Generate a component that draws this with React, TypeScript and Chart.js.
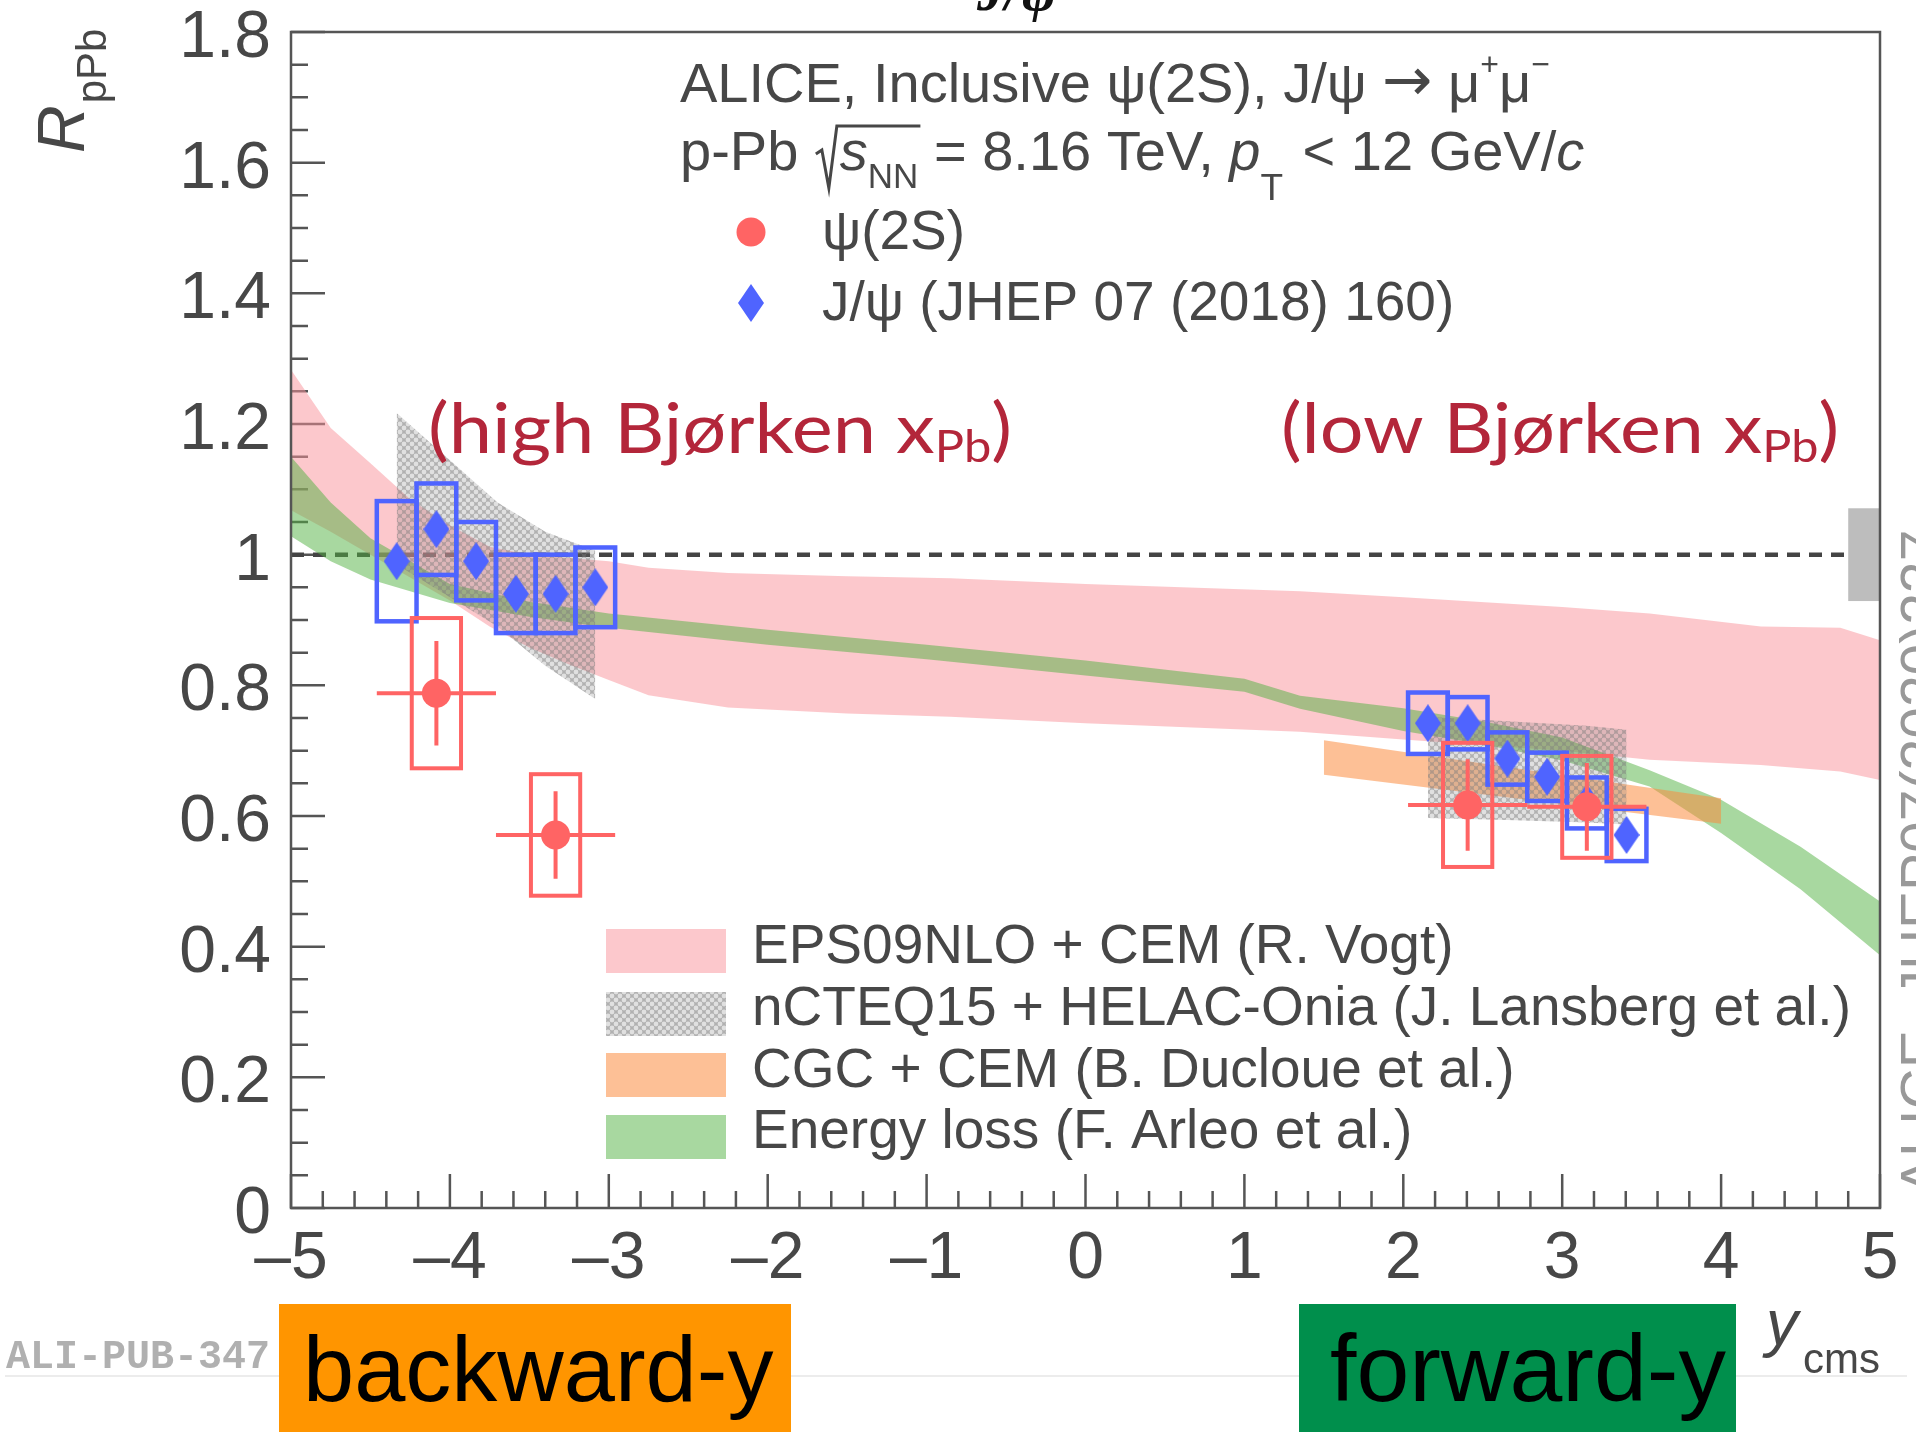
import { useEffect, useRef } from 'react';
import { Chart, registerables } from 'chart.js';

Chart.register(...registerables);

const CANVAS_W = 1916;
const CANVAS_H = 1432;
const SANS = '"Liberation Sans", Arial, Helvetica, sans-serif';
const SERIF = '"Liberation Serif", "Times New Roman", serif';
const ROUND = 'Lato, "Open Sans", sans-serif';
const MONO = '"Liberation Mono", "DejaVu Sans Mono", monospace';
const SYMBOL = '"DejaVu Sans", sans-serif';

const TEXT_GREY = '#474747';
const AXIS_GREY = '#555555';
const RED = '#ff6464';
const BLUE = '#4f64ff';
const PINK = 'rgba(249,145,153,0.5)';
const GREEN = 'rgba(81,177,65,0.5)';
const ORANGE = 'rgba(251,140,64,0.55)';
const NOTE_RED = '#b3263a';

// axis ranges and ticks
const X_MIN = -5;
const X_MAX = 5;
const Y_MIN = 0;
const Y_MAX = 1.8;
const X_STEP = 1;
const Y_STEP = 0.2;
const X_MINOR = 0.2;
const Y_MINOR = 0.05;

// ψ(2S) R_pPb: two rapidity bins per side
const psiRap = [-4.085, -3.335, 2.405, 3.155];
const psiVal = [0.788, 0.571, 0.617, 0.614];
const psiStat = [0.08, 0.067, 0.07, 0.067];
const psiSyst = [0.115, 0.093, 0.095, 0.078];
const psiBinHalf = 0.375;
const psiBoxHalf = 0.155;

// J/ψ R_pPb (JHEP 07 (2018) 160): six bins per side
const jpsiRap = [-4.335, -4.085, -3.835, -3.585, -3.335, -3.085, 2.155, 2.405, 2.655, 2.905, 3.155, 3.405];
const jpsiVal = [0.99, 1.039, 0.99, 0.94, 0.94, 0.95, 0.742, 0.742, 0.688, 0.66, 0.62, 0.571];
const jpsiSyst = [0.092, 0.07, 0.06, 0.06, 0.06, 0.061, 0.047, 0.04, 0.04, 0.037, 0.039, 0.04];
const jpsiBinHalf = 0.125;

// global normalisation uncertainty drawn at unity
const globalUnc = 0.071;
const globalFrom = 4.8;

// EPS09NLO + CEM (R. Vogt)
const vogtRap = [-5, -4.75, -4.5, -4.25, -4, -3.75, -3.5, -3.25, -3, -2.75, -2.25, -1.5, -0.85, 0, 1.35, 2, 3, 3.55, 4.25, 4.75, 5];
const vogtLo = [1.068, 1.035, 1.0, 0.965, 0.93, 0.89, 0.858, 0.832, 0.808, 0.785, 0.766, 0.757, 0.752, 0.742, 0.729, 0.717, 0.7, 0.686, 0.678, 0.668, 0.655];
const vogtHi = [1.283, 1.194, 1.14, 1.085, 1.045, 1.012, 1.0, 0.995, 0.99, 0.98, 0.972, 0.967, 0.964, 0.955, 0.944, 0.935, 0.92, 0.91, 0.89, 0.888, 0.869];

// nCTEQ15 + HELAC-Onia (J. Lansberg et al.)
const lansBwdRap = [-4.335, -3.7, -3.4, -3.085];
const lansBwdLo = [0.985, 0.89, 0.83, 0.779];
const lansBwdHi = [1.217, 1.08, 1.035, 1.006];
const lansFwdRap = [2.155, 2.655, 3.155, 3.405];
const lansFwdLo = [0.597, 0.594, 0.59, 0.587];
const lansFwdHi = [0.752, 0.745, 0.738, 0.732];

// CGC + CEM (B. Ducloue et al.)
const duclRap = [1.5, 4.0];
const duclLo = [0.663, 0.588];
const duclHi = [0.716, 0.627];

// Energy loss (F. Arleo et al.)
const arleoRap = [-5, -4.75, -4.5, -4, -3.5, -3, -2, -1, 0, 1, 1.35, 2, 2.5, 3, 3.55, 4, 4.5, 5];
const arleoLo = [1.028, 0.99, 0.962, 0.926, 0.905, 0.888, 0.862, 0.84, 0.815, 0.79, 0.764, 0.73, 0.71, 0.685, 0.645, 0.574, 0.488, 0.387];
const arleoHi = [1.15, 1.08, 1.025, 0.955, 0.928, 0.91, 0.885, 0.862, 0.838, 0.81, 0.784, 0.765, 0.745, 0.72, 0.67, 0.625, 0.553, 0.469];

const pts = (xs: number[], ys: number[]) => xs.map((x, i) => ({ x, y: ys[i] }));

type Seg = { t: string; size: number; dy?: number; style?: string; family?: string; dx?: number };

function drawSegs(ctx: CanvasRenderingContext2D, x: number, y: number, segs: Seg[], draw = true) {
  let cx = x;
  for (const s of segs) {
    cx += s.dx ?? 0;
    ctx.font = `${s.style ?? ''} ${s.size}px ${s.family ?? SANS}`;
    if (draw) ctx.fillText(s.t, cx, y + (s.dy ?? 0));
    cx += ctx.measureText(s.t).width;
  }
  return cx;
}

function makeHatch() {
  const c = document.createElement('canvas');
  c.width = 8;
  c.height = 8;
  const g = c.getContext('2d')!;
  g.fillStyle = 'rgba(125,125,125,0.6)';
  g.fillRect(0, 0, 8, 8);
  g.globalCompositeOperation = 'destination-out';
  const holes = [[0, 0], [8, 0], [0, 8], [8, 8], [4, 4]];
  for (const [hx, hy] of holes) {
    g.beginPath();
    g.arc(hx, hy, 2.4, 0, Math.PI * 2);
    g.fill();
  }
  return g.createPattern(c, 'repeat') as CanvasPattern;
}

function makeDiamond(w: number, h: number, color: string) {
  const c = document.createElement('canvas');
  c.width = w;
  c.height = h;
  const g = c.getContext('2d')!;
  g.fillStyle = color;
  g.beginPath();
  g.moveTo(w / 2, 0);
  g.lineTo(w, h / 2);
  g.lineTo(w / 2, h);
  g.lineTo(0, h / 2);
  g.closePath();
  g.fill();
  return c;
}

const fmtX = (v: number) => (v < 0 ? '\u2013' + Math.abs(v) : String(v));
const fmtY = (v: number) => String(Math.round(v * 10) / 10);

export default function App() {
  const ref = useRef<HTMLCanvasElement>(null);

  useEffect(() => {
    const canvas = ref.current!;
    const hatch = makeHatch();
    const diamond = makeDiamond(26, 38, BLUE);

    const band = (xs: number[], hi: number[], lo: number[], color: string | CanvasPattern, order: number) => [
      { data: pts(xs, hi), fill: '+1', backgroundColor: color, borderWidth: 0, pointRadius: 0, order },
      { data: pts(xs, lo), fill: false, borderWidth: 0, pointRadius: 0, order },
    ];

    const drawJpsiBoxes = (chart: any) => {
      const { ctx } = chart;
      const xs = chart.scales.x;
      const ys = chart.scales.y;
      ctx.save();
      ctx.strokeStyle = BLUE;
      ctx.lineWidth = 4.5;
      jpsiRap.forEach((r, i) => {
        const x0 = xs.getPixelForValue(r - jpsiBinHalf);
        const x1 = xs.getPixelForValue(r + jpsiBinHalf);
        const y0 = ys.getPixelForValue(jpsiVal[i] + jpsiSyst[i]);
        const y1 = ys.getPixelForValue(jpsiVal[i] - jpsiSyst[i]);
        ctx.strokeRect(x0, y0, x1 - x0, y1 - y0);
      });
      ctx.restore();
    };

    const drawPsiErrors = (chart: any) => {
      const { ctx } = chart;
      const xs = chart.scales.x;
      const ys = chart.scales.y;
      ctx.save();
      ctx.strokeStyle = RED;
      ctx.lineWidth = 4;
      psiRap.forEach((r, i) => {
        const v = psiVal[i];
        const x0 = xs.getPixelForValue(r - psiBoxHalf);
        const x1 = xs.getPixelForValue(r + psiBoxHalf);
        const y0 = ys.getPixelForValue(v + psiSyst[i]);
        const y1 = ys.getPixelForValue(v - psiSyst[i]);
        ctx.strokeRect(x0, y0, x1 - x0, y1 - y0);
        const xc = xs.getPixelForValue(r);
        const yc = ys.getPixelForValue(v);
        ctx.beginPath();
        ctx.moveTo(xc, ys.getPixelForValue(v + psiStat[i]));
        ctx.lineTo(xc, ys.getPixelForValue(v - psiStat[i]));
        ctx.moveTo(xs.getPixelForValue(r - psiBinHalf), yc);
        ctx.lineTo(xs.getPixelForValue(r + psiBinHalf), yc);
        ctx.stroke();
      });
      ctx.restore();
    };

    // text squeezed/stretched horizontally to a given width
    const fitSegs = (ctx: CanvasRenderingContext2D, x: number, y: number, width: number, segs: Seg[]) => {
      const natural = drawSegs(ctx, 0, 0, segs, false);
      ctx.save();
      ctx.translate(x, y);
      ctx.scale(width / natural, 1);
      drawSegs(ctx, 0, 0, segs);
      ctx.restore();
    };

    const decor = {
      id: 'rootStyle',
      beforeDatasetsDraw(chart: any) {
        const { ctx, chartArea } = chart;
        const xs = chart.scales.x;
        const ys = chart.scales.y;
        ctx.save();
        ctx.strokeStyle = AXIS_GREY;
        ctx.lineWidth = 2.5;
        ctx.beginPath();
        const nY = Math.round((Y_MAX - Y_MIN) / Y_MINOR);
        for (let k = 0; k <= nY; k++) {
          const v = Y_MIN + k * Y_MINOR;
          const len = k % Math.round(Y_STEP / Y_MINOR) === 0 ? 34 : 17;
          const py = ys.getPixelForValue(v);
          ctx.moveTo(chartArea.left, py);
          ctx.lineTo(chartArea.left + len, py);
        }
        const nX = Math.round((X_MAX - X_MIN) / X_MINOR);
        for (let k = 0; k <= nX; k++) {
          const v = X_MIN + k * X_MINOR;
          const len = k % Math.round(X_STEP / X_MINOR) === 0 ? 34 : 17;
          const px = xs.getPixelForValue(v);
          ctx.moveTo(px, chartArea.bottom);
          ctx.lineTo(px, chartArea.bottom - len);
        }
        ctx.stroke();
        ctx.restore();
      },
      beforeDatasetDraw(chart: any, args: any) {
        if (args.index === 11) drawJpsiBoxes(chart);
        if (args.index === 12) drawPsiErrors(chart);
      },
      afterDatasetsDraw(chart: any) {
        const { ctx, chartArea } = chart;
        const xs = chart.scales.x;
        const ys = chart.scales.y;
        ctx.save();
        // global normalisation box
        ctx.fillStyle = '#bdbdbd';
        const gx0 = xs.getPixelForValue(globalFrom);
        const gx1 = xs.getPixelForValue(X_MAX);
        const gy0 = ys.getPixelForValue(1 + globalUnc);
        const gy1 = ys.getPixelForValue(1 - globalUnc);
        ctx.fillRect(gx0, gy0, gx1 - gx0, gy1 - gy0);
        // frame
        ctx.strokeStyle = AXIS_GREY;
        ctx.lineWidth = 2.5;
        ctx.strokeRect(chartArea.left, chartArea.top, chartArea.right - chartArea.left, chartArea.bottom - chartArea.top);
        ctx.restore();
      },
      afterDraw(chart: any) {
        const { ctx, chartArea } = chart;
        const xs = chart.scales.x;
        const ys = chart.scales.y;
        ctx.save();
        ctx.textBaseline = 'alphabetic';

        // tick labels from the scales' own ticks
        ctx.fillStyle = TEXT_GREY;
        ctx.font = `66px ${SANS}`;
        ctx.textAlign = 'right';
        for (const t of ys.ticks) {
          ctx.fillText(fmtY(t.value), chartArea.left - 20, ys.getPixelForValue(t.value) + 25);
        }
        ctx.textAlign = 'center';
        for (const t of xs.ticks) {
          ctx.fillText(fmtX(t.value), xs.getPixelForValue(t.value), chartArea.bottom + 70);
        }
        ctx.textAlign = 'left';

        // title fragment at the very top
        ctx.fillStyle = '#111';
        ctx.font = `italic bold 56px ${SERIF}`;
        ctx.fillText('J/\u03c8', 977, 10);

        // header
        ctx.fillStyle = TEXT_GREY;
        drawSegs(ctx, 680, 102, [
          { t: 'ALICE, Inclusive \u03c8(2S), J/\u03c8 ', size: 56 },
          { t: '\u2192', size: 60, family: SYMBOL, dy: -2 },
          { t: ' \u03bc', size: 56 },
          { t: '+', size: 32, dy: -27 },
          { t: '\u03bc', size: 56 },
          { t: '\u2212', size: 32, dy: -27 },
        ]);
        {
          const y = 170;
          let cx = drawSegs(ctx, 680, y, [{ t: 'p-Pb ', size: 56 }]);
          const r0 = cx + 2;
          const over = y - 44;
          cx = drawSegs(ctx, r0 + 24, y, [
            { t: 's', size: 56, style: 'italic' },
            { t: 'NN', size: 35, dy: 18 },
          ]);
          ctx.strokeStyle = TEXT_GREY;
          ctx.lineWidth = 3;
          ctx.beginPath();
          ctx.moveTo(r0, y - 16);
          ctx.lineTo(r0 + 6, y - 20);
          ctx.lineTo(r0 + 13, y + 18);
          ctx.lineTo(r0 + 21, over);
          ctx.lineTo(cx + 2, over);
          ctx.stroke();
          drawSegs(ctx, cx, y, [
            { t: ' = 8.16 TeV, ', size: 56 },
            { t: 'p', size: 56, style: 'italic' },
            { t: 'T', size: 37, dy: 30 },
            { t: ' < 12 GeV/', size: 56, dx: 4 },
            { t: 'c', size: 56, style: 'italic' },
          ]);
        }
        // data legend
        ctx.fillStyle = RED;
        ctx.beginPath();
        ctx.arc(751, 232, 14.5, 0, Math.PI * 2);
        ctx.fill();
        ctx.drawImage(diamond, 751 - 13, 303 - 19);
        ctx.fillStyle = TEXT_GREY;
        ctx.font = `55px ${SANS}`;
        ctx.fillText('\u03c8(2S)', 822, 249);
        ctx.fillText('J/\u03c8 (JHEP 07 (2018) 160)', 822, 320);

        // kinematic region notes
        ctx.fillStyle = NOTE_RED;
        const noteSegs = (word: string): Seg[] => [
          { t: `(${word} Bj\u00f8rken x`, size: 70, family: ROUND },
          { t: 'Pb', size: 44, dy: 9, family: ROUND },
          { t: ')', size: 70, family: ROUND },
        ];
        fitSegs(ctx, 428, 453, 584, noteSegs('high'));
        fitSegs(ctx, 1281, 453, 558, noteSegs('low'));

        // model legend
        const rows: [string | CanvasPattern, string][] = [
          [PINK, 'EPS09NLO + CEM (R. Vogt)'],
          [hatch, 'nCTEQ15 + HELAC-Onia (J. Lansberg et al.)'],
          [ORANGE, 'CGC + CEM (B. Ducloue et al.)'],
          [GREEN, 'Energy loss (F. Arleo et al.)'],
        ];
        const rowTop = [929, 992, 1053, 1115];
        const rowBase = [963, 1025, 1087, 1148];
        rows.forEach(([fill, label], i) => {
          ctx.fillStyle = fill;
          ctx.fillRect(606, rowTop[i], 120, 44);
          ctx.fillStyle = TEXT_GREY;
          ctx.font = `55px ${SANS}`;
          ctx.fillText(label, 752, rowBase[i]);
        });

        // y-axis title R_pPb (rotated)
        ctx.save();
        ctx.translate(84, 153);
        ctx.rotate(-Math.PI / 2);
        ctx.fillStyle = TEXT_GREY;
        drawSegs(ctx, 0, 0, [
          { t: 'R', size: 66, style: 'italic' },
          { t: 'pPb', size: 42, dy: 22, dx: 2 },
        ]);
        ctx.restore();

        // x-axis title y_cms
        ctx.fillStyle = TEXT_GREY;
        drawSegs(ctx, 1766, 1345, [{ t: 'y', size: 64, style: 'italic' }]);
        drawSegs(ctx, 1803, 1373, [{ t: 'cms', size: 42 }]);

        // publication id and footer strip
        ctx.strokeStyle = '#ececec';
        ctx.lineWidth = 2;
        ctx.beginPath();
        ctx.moveTo(5, 1376);
        ctx.lineTo(1907, 1376);
        ctx.stroke();
        ctx.fillStyle = '#b0b0b0';
        ctx.font = `bold 40px ${MONO}`;
        ctx.fillText('ALI-PUB-347', 6, 1368);

        ctx.fillStyle = '#ff9500';
        ctx.fillRect(279, 1304, 512, 128);
        ctx.fillStyle = '#008f4c';
        ctx.fillRect(1299, 1304, 437, 128);
        ctx.fillStyle = '#000';
        ctx.font = `92px ${SANS}`;
        ctx.fillText('backward-y', 303, 1401);
        ctx.font = `95px ${SANS}`;
        ctx.fillText('forward-y', 1330, 1401);

        // rotated reference on the right edge
        ctx.save();
        ctx.translate(1941, 1195);
        ctx.rotate(-Math.PI / 2);
        ctx.fillStyle = '#999';
        ctx.font = `57px ${SANS}`;
        ctx.fillText('ALICE, JHEP07(2020)237', 0, 0);
        ctx.restore();

        ctx.restore();
      },
    };

    const datasets: any[] = [
      // reference line at unity
      {
        data: [{ x: X_MIN, y: 1 }, { x: globalFrom, y: 1 }],
        borderColor: '#444',
        borderWidth: 4.5,
        borderDash: [13, 9],
        pointRadius: 0,
        fill: false,
        order: 20,
      },
      ...band(vogtRap, vogtHi, vogtLo, PINK, 19),
      ...band(arleoRap, arleoHi, arleoLo, GREEN, 18),
      ...band(duclRap, duclHi, duclLo, ORANGE, 17),
      ...band(lansBwdRap, lansBwdHi, lansBwdLo, hatch, 16),
      ...band(lansFwdRap, lansFwdHi, lansFwdLo, hatch, 16),
      {
        data: pts(jpsiRap, jpsiVal),
        showLine: false,
        pointStyle: diamond,
        pointRadius: 19,
        order: 2,
      },
      {
        data: pts(psiRap, psiVal),
        showLine: false,
        pointStyle: 'circle',
        pointRadius: 14.5,
        pointBackgroundColor: RED,
        pointBorderWidth: 0,
        order: 1,
      },
    ];

    const chart = new Chart(canvas, {
      type: 'line',
      data: { datasets },
      options: {
        responsive: false,
        animation: false,
        devicePixelRatio: 1,
        events: [],
        layout: { padding: { top: 32, right: 36, left: 0, bottom: 0 } },
        plugins: { legend: { display: false }, tooltip: { enabled: false }, title: { display: false } },
        scales: {
          x: {
            type: 'linear',
            min: X_MIN,
            max: X_MAX,
            grid: { display: false },
            border: { display: false },
            ticks: { stepSize: X_STEP, autoSkip: false, display: false },
            afterFit: (s: any) => {
              s.height = 224;
              s.paddingLeft = 0;
              s.paddingRight = 0;
            },
          },
          y: {
            type: 'linear',
            min: Y_MIN,
            max: Y_MAX,
            grid: { display: false },
            border: { display: false },
            ticks: { stepSize: Y_STEP, autoSkip: false, display: false },
            afterFit: (s: any) => {
              s.width = 291;
              s.paddingTop = 0;
              s.paddingBottom = 0;
            },
          },
        },
      } as any,
      plugins: [decor],
    });

    return () => chart.destroy();
  }, []);

  return (
    <div style={{ position: 'fixed', left: 0, top: 0, width: CANVAS_W, height: CANVAS_H, background: '#fff' }}>
      <canvas ref={ref} width={CANVAS_W} height={CANVAS_H} style={{ display: 'block', width: CANVAS_W, height: CANVAS_H }} />
    </div>
  );
}
